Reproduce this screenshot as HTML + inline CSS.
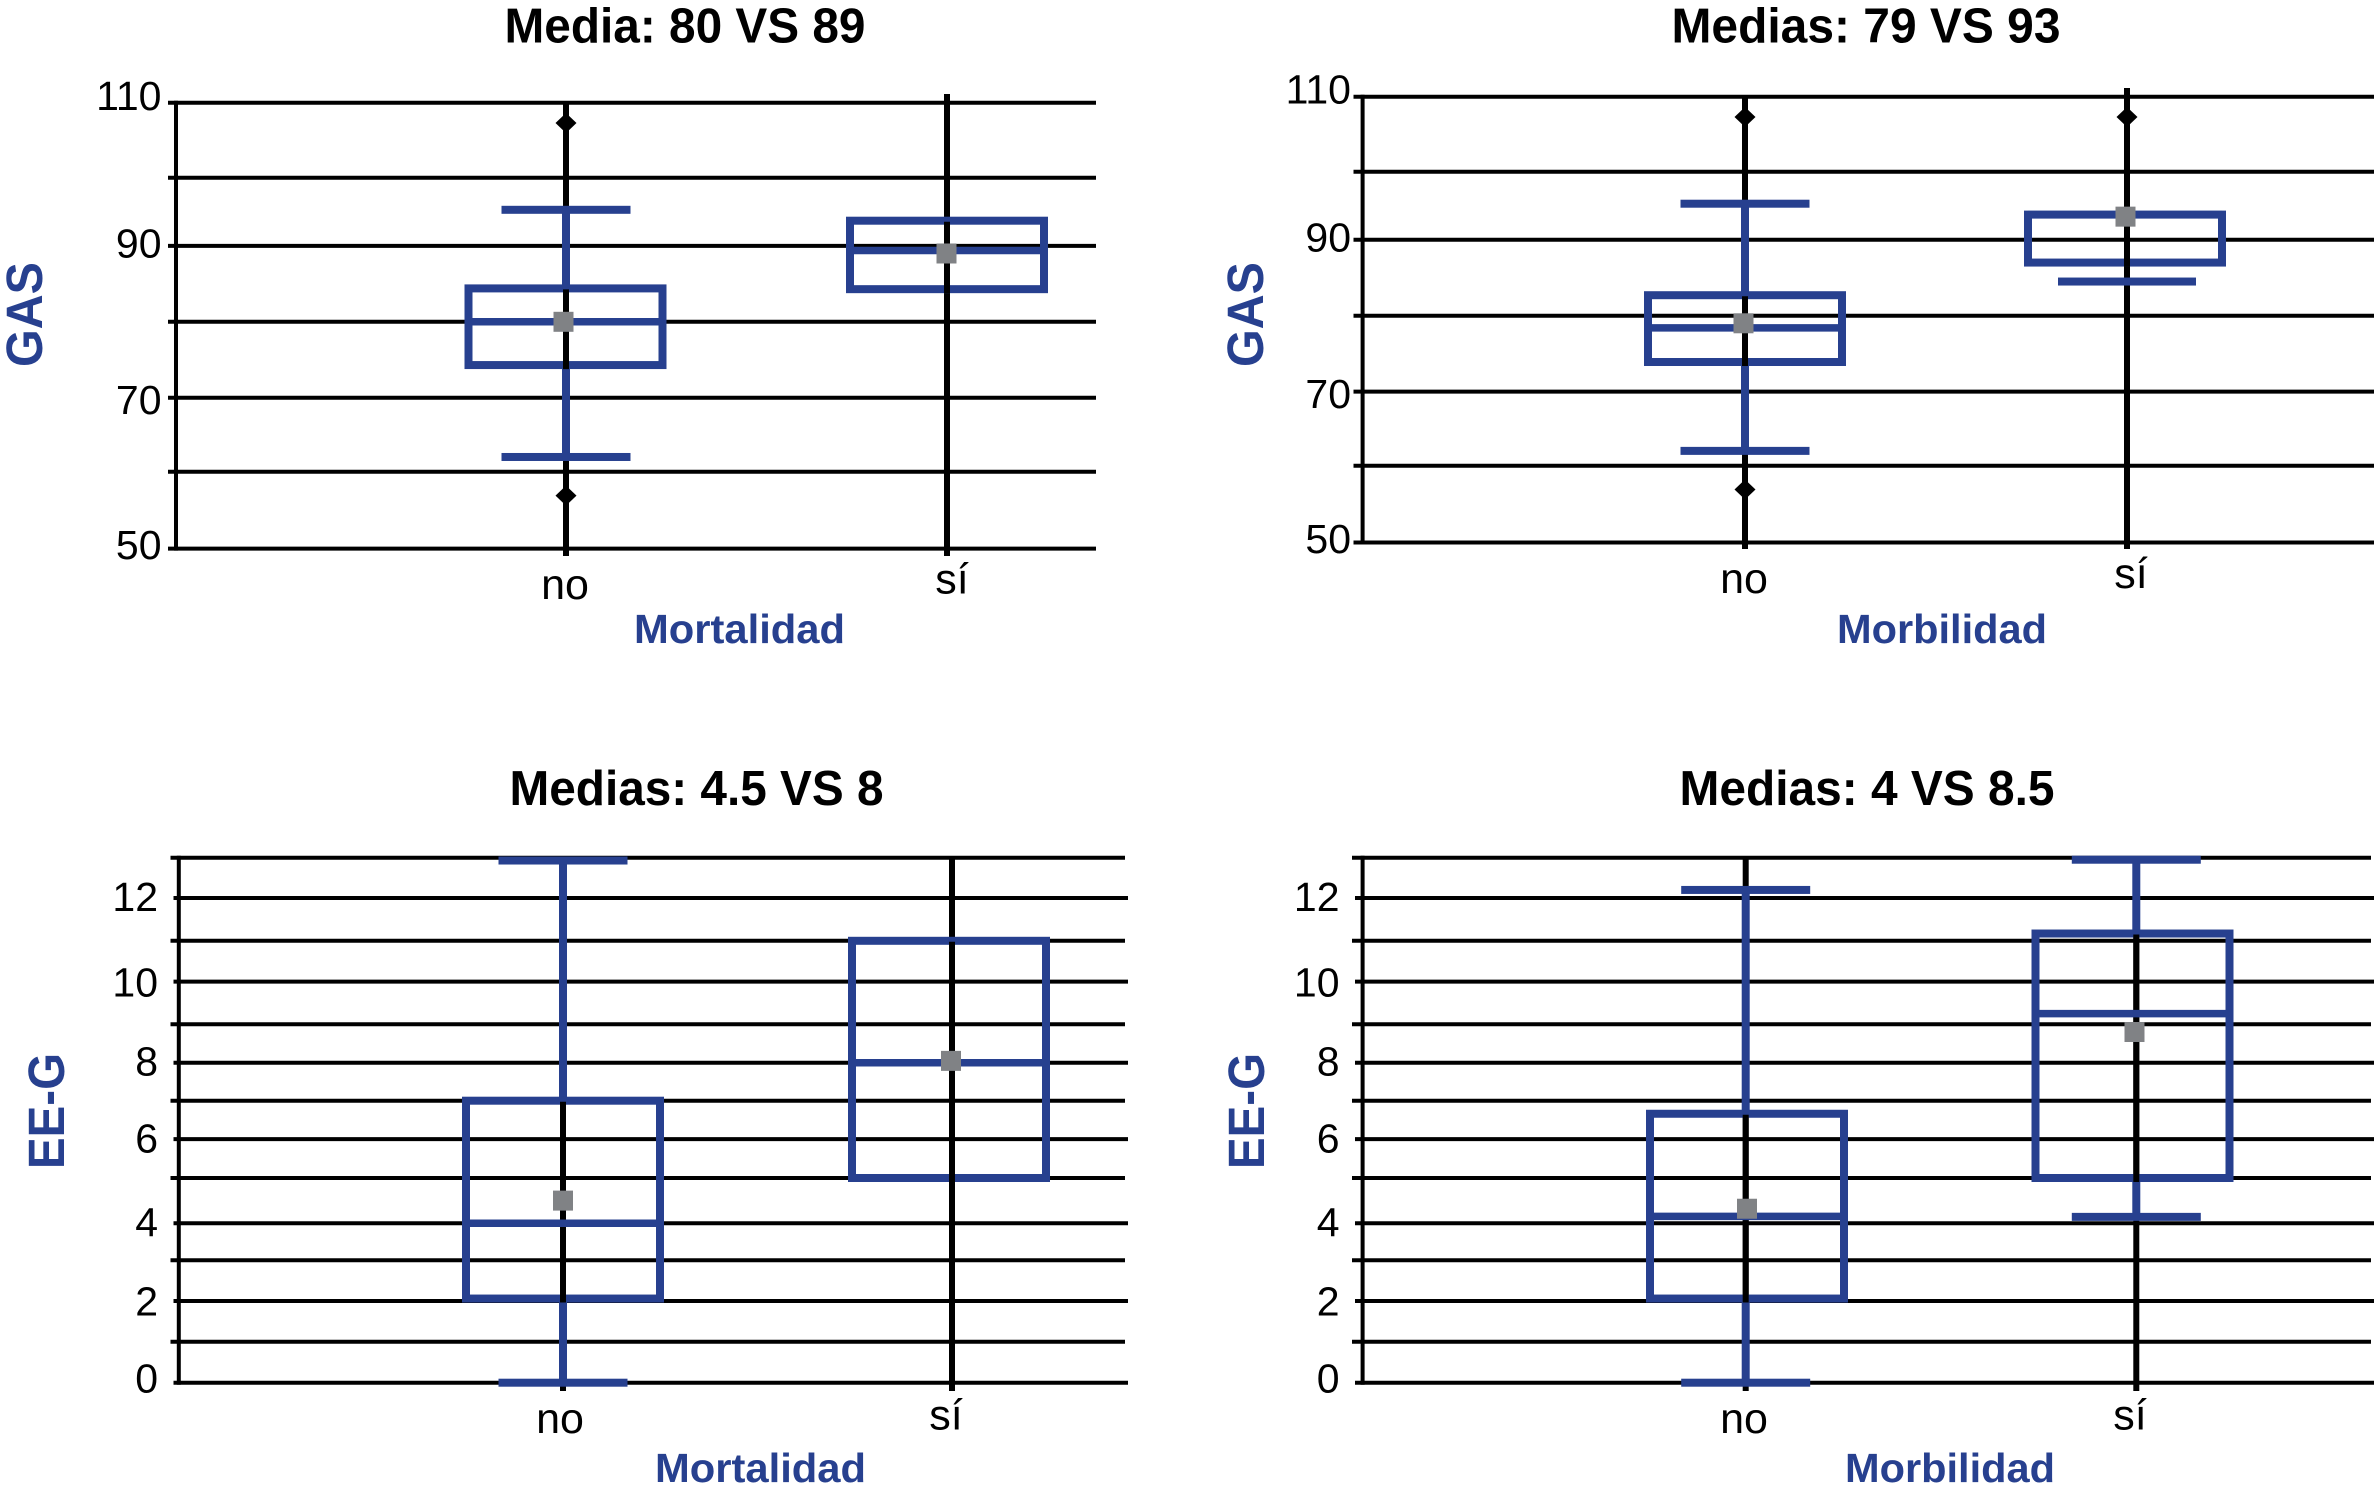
<!DOCTYPE html>
<html lang="es">
<head>
<meta charset="utf-8">
<title>Diagramas de caja: GAS y EE-G según mortalidad y morbilidad</title>
<style>
html,body{margin:0;padding:0;background:#fff;}
svg{display:block;}
text{font-family:"Liberation Sans",Arial,sans-serif;}
.title{font-size:49px;font-weight:700;fill:#000;}
.axis-title{font-size:41px;font-weight:700;fill:#27408f;}
.y-title{font-size:51px;font-weight:700;fill:#27408f;}
</style>
</head>
<body>
<svg id="figure" xmlns="http://www.w3.org/2000/svg" width="2374" height="1493" viewBox="0 0 2374 1493">
  <rect width="2374" height="1493" fill="#fff"/>
  <g id="panel-a"></g>
  <g id="panel-b"></g>
  <g id="panel-c"></g>
  <g id="panel-d"></g>

  <text class="title" x="504.5" y="42.5" textLength="361" lengthAdjust="spacingAndGlyphs">Media: 80 VS 89</text>
  <text class="title" x="1671.5" y="42.5" textLength="389" lengthAdjust="spacingAndGlyphs">Medias: 79 VS 93</text>
  <text class="title" x="509.5" y="805" textLength="374" lengthAdjust="spacingAndGlyphs">Medias: 4.5 VS 8</text>
  <text class="title" x="1679.5" y="805" textLength="375" lengthAdjust="spacingAndGlyphs">Medias: 4 VS 8.5</text>

  <text class="axis-title" x="634" y="643" textLength="211" lengthAdjust="spacingAndGlyphs">Mortalidad</text>
  <text class="axis-title" x="1837" y="643" textLength="210" lengthAdjust="spacingAndGlyphs">Morbilidad</text>
  <text class="axis-title" x="655" y="1482" textLength="211" lengthAdjust="spacingAndGlyphs">Mortalidad</text>
  <text class="axis-title" x="1845" y="1482" textLength="210" lengthAdjust="spacingAndGlyphs">Morbilidad</text>

  <text class="y-title" transform="translate(42,367) rotate(-90)" textLength="105" lengthAdjust="spacingAndGlyphs">GAS</text>
  <text class="y-title" transform="translate(1263,367) rotate(-90)" textLength="105" lengthAdjust="spacingAndGlyphs">GAS</text>
  <text class="y-title" transform="translate(64,1169) rotate(-90)" textLength="116" lengthAdjust="spacingAndGlyphs">EE-G</text>
  <text class="y-title" transform="translate(1264,1169) rotate(-90)" textLength="116" lengthAdjust="spacingAndGlyphs">EE-G</text>
</svg>
<script>
// ---------- chart data ----------
const categories = ['no', 'sí'];

const gasGridValues = [110, 100, 90, 80, 70, 60, 50];
const gasTickLabels = [110, 90, 70, 50];
const eegGridValues = [13, 12, 11, 10, 9, 8, 7, 6, 5, 4, 3, 2, 1, 0];
const eegTickLabels = [12, 10, 8, 6, 4, 2, 0];

// GAS by mortalidad
const gasMortQ1 = [74.3, 84.3];
const gasMortMedian = [80, 89.4];
const gasMortQ3 = [84.4, 93.7];
const gasMortWhiskerLow = [62, null];
const gasMortWhiskerHigh = [95.3, null];
const gasMortMean = [80, 89];
const gasMortOutliers = [[107.3, 56.9], []];

// GAS by morbilidad
const gasMorbQ1 = [73.9, 87];
const gasMorbMedian = [78.4, 93.7];
const gasMorbQ3 = [82.7, 93.7];
const gasMorbWhiskerLow = [62, 84.5];
const gasMorbWhiskerHigh = [95.3, null];
const gasMorbMean = [79, 93.4];
const gasMorbOutliers = [[107.3, 56.9], [107.3]];

// EE-G by mortalidad
const eegMortQ1 = [2.06, 5];
const eegMortMedian = [4, 8];
const eegMortQ3 = [7, 11];
const eegMortWhiskerLow = [0, null];
const eegMortWhiskerHigh = [12.93, null];
const eegMortMean = [4.5, 8.05];
const eegMortOutliers = [[], []];

// EE-G by morbilidad
const eegMorbQ1 = [2.06, 5];
const eegMorbMedian = [4.15, 9.25];
const eegMorbQ3 = [6.66, 11.17];
const eegMorbWhiskerLow = [0, 4.14];
const eegMorbWhiskerHigh = [12.2, 12.95];
const eegMorbMean = [4.32, 8.8];
const eegMorbOutliers = [[], []];

// ---------- layout (separate from the data) ----------
const BLUE = '#27408f', GREY = '#808285', NS = 'http://www.w3.org/2000/svg';
const gasLabelNudge = [7, 11.5, 16.5, 10.5];
const eegLabelNudge = [13, 15, 12.8, 13.5, 13.2, 14.5, 10];

const layouts = [
  { id:'panel-a', gridValues:gasGridValues, ticks:gasTickLabels, nudge:gasLabelNudge,
    gridPx:[102.8,177.8,245.9,321.8,397.7,471.8,548.6],
    left:168, axisX:176, right:1096, labelRight:161.5, minorShift:0,
    lineX:[566,947], boxX:[565.5,947], meanX:[563.5,946.5], catX:[565,952], catY:[599,593.5],
    lineTop:[102.8,94], lineBottom:556, capW:[129,129], lowStem:[true,false],
    q1:gasMortQ1, med:gasMortMedian, q3:gasMortQ3, lo:gasMortWhiskerLow, hi:gasMortWhiskerHigh, mean:gasMortMean, out:gasMortOutliers },
  { id:'panel-b', gridValues:gasGridValues, ticks:gasTickLabels, nudge:gasLabelNudge,
    gridPx:[96.7,171.7,239.8,315.7,391.6,465.7,542.5],
    left:1353.5, axisX:1362.6, right:2374, labelRight:1351, minorShift:0,
    lineX:[1745,2127], boxX:[1745,2125], meanX:[1743.5,2125.5], catX:[1744,2131], catY:[593,588],
    lineTop:[96.7,88], lineBottom:549, capW:[129,138], lowStem:[true,false],
    q1:gasMorbQ1, med:gasMorbMedian, q3:gasMorbQ3, lo:gasMorbWhiskerLow, hi:gasMorbWhiskerHigh, mean:gasMorbMean, out:gasMorbOutliers },
  { id:'panel-c', gridValues:eegGridValues, ticks:eegTickLabels, nudge:eegLabelNudge,
    gridPx:[857.7,898,940.8,981.6,1024.3,1062.8,1100.7,1139.1,1178,1223.2,1260.2,1301,1341.8,1382.7],
    left:173.5, axisX:178.8, right:1128, labelRight:158, minorShift:3,
    lineX:[563,952], boxX:[563,949], meanX:[563,951], catX:[560,946], catY:[1433,1429.5],
    lineTop:[857.7,857.7], lineBottom:1391, capW:[129,129], lowStem:[true,true],
    q1:eegMortQ1, med:eegMortMedian, q3:eegMortQ3, lo:eegMortWhiskerLow, hi:eegMortWhiskerHigh, mean:eegMortMean, out:eegMortOutliers },
  { id:'panel-d', gridValues:eegGridValues, ticks:eegTickLabels, nudge:eegLabelNudge,
    gridPx:[857.7,898,940.8,981.6,1024.3,1062.8,1100.7,1139.1,1178,1223.2,1260.2,1301,1341.8,1382.7],
    left:1355, axisX:1362.6, right:2374, labelRight:1339.5, minorShift:3,
    lineX:[1745.7,2136.3], boxX:[1747,2132.5], meanX:[1747,2134.5], catX:[1744,2130], catY:[1433,1429.5],
    lineTop:[857.7,857.7], lineBottom:1391, capW:[129,129], lowStem:[true,true],
    q1:eegMorbQ1, med:eegMorbMedian, q3:eegMorbQ3, lo:eegMorbWhiskerLow, hi:eegMorbWhiskerHigh, mean:eegMorbMean, out:eegMorbOutliers }
];

const BOX_W = 194, BOX_STROKE = 8, STEM_W = 8, CAP_H = 8, MEAN_SIZE = 20, TICK_FONT = 41, CAT_FONT = 43;

function add(parent, tag, attrs) {
  const el = document.createElementNS(NS, tag);
  for (const k in attrs) el.setAttribute(k, attrs[k]);
  parent.appendChild(el);
  return el;
}

// piecewise-linear value axis: the source figure's gridlines are not evenly spaced
function makeYAxis(values, pixels) {
  return function (v) {
    for (let i = 0; i < values.length - 1; i++) {
      const a = values[i], b = values[i + 1];
      if ((v <= a && v >= b) || i === values.length - 2) {
        return pixels[i] + (v - a) / (b - a) * (pixels[i + 1] - pixels[i]);
      }
    }
    return pixels[0] + (v - values[0]) / (values[1] - values[0]) * (pixels[1] - pixels[0]);
  };
}

layouts.forEach(function (p) {
  const g = document.getElementById(p.id);
  const y = makeYAxis(p.gridValues, p.gridPx);

  p.gridValues.forEach(function (v) {
    const shift = p.ticks.indexOf(v) === -1 ? p.minorShift : 0;
    const el = add(g, 'line', { x1:p.left - shift, x2:p.right - shift, y1:y(v), y2:y(v), stroke:'#000', 'stroke-width':4 });
    
    
  });

  const axis = add(g, 'line', { x1:p.axisX, x2:p.axisX, y1:p.gridPx[0] - 2, y2:p.gridPx[p.gridPx.length - 1] + 2, stroke:'#000', 'stroke-width':4 });
  
  

  p.ticks.forEach(function (t, i) {
    const el = add(g, 'text', { x:p.labelRight, y:y(t) + p.nudge[i], 'text-anchor':'end', 'font-size':TICK_FONT, fill:'#000' });
    el.textContent = String(t);
    
    
  });

  categories.forEach(function (cat, i) {
    const lx = p.lineX[i], bx = p.boxX[i];

    const cl = add(g, 'line', { x1:lx, x2:lx, y1:p.lineTop[i], y2:p.lineBottom, stroke:'#000', 'stroke-width':6 });
    
    

    const label = add(g, 'text', { x:p.catX[i], y:p.catY[i], 'text-anchor':'middle', 'font-size':CAT_FONT, fill:'#000' });
    label.textContent = cat;
    
    

    if (p.hi[i] !== null) {
      const stem = add(g, 'line', { x1:lx, x2:lx, y1:y(p.hi[i]), y2:y(p.q3[i]), stroke:BLUE, 'stroke-width':STEM_W });
      
      
      const cap = add(g, 'rect', { x:lx - p.capW[i] / 2, y:y(p.hi[i]) - CAP_H / 2, width:p.capW[i], height:CAP_H, fill:BLUE });
      
      
    }
    if (p.lo[i] !== null) {
      if (p.lowStem[i]) {
        const stem = add(g, 'line', { x1:lx, x2:lx, y1:y(p.q1[i]), y2:y(p.lo[i]), stroke:BLUE, 'stroke-width':STEM_W });
        
        
      }
      const cap = add(g, 'rect', { x:lx - p.capW[i] / 2, y:y(p.lo[i]) - CAP_H / 2, width:p.capW[i], height:CAP_H, fill:BLUE });
      
      
    }

    const box = add(g, 'rect', { x:bx - BOX_W / 2, y:y(p.q3[i]), width:BOX_W, height:y(p.q1[i]) - y(p.q3[i]), fill:'none', stroke:BLUE, 'stroke-width':BOX_STROKE });
    
    

    const inner = add(g, 'line', { x1:lx, x2:lx, y1:y(p.q3[i]) + 1, y2:y(p.q1[i]) + 4, stroke:'#000', 'stroke-width':6 });
    
    

    const med = add(g, 'line', { x1:bx - BOX_W / 2, x2:bx + BOX_W / 2, y1:y(p.med[i]), y2:y(p.med[i]), stroke:BLUE, 'stroke-width':7.5 });
    
    

    p.out[i].forEach(function (v) {
      const cy = y(v);
      const d = add(g, 'polygon', { points:[lx, cy - 10, lx + 10.5, cy, lx, cy + 10, lx - 10.5, cy].join(' '), fill:'#000' });
      
      
    });

    const m = add(g, 'rect', { x:p.meanX[i] - MEAN_SIZE / 2, y:y(p.mean[i]) - MEAN_SIZE / 2, width:MEAN_SIZE, height:MEAN_SIZE, fill:GREY });
    
    
  });
});
</script>
</body>
</html>
